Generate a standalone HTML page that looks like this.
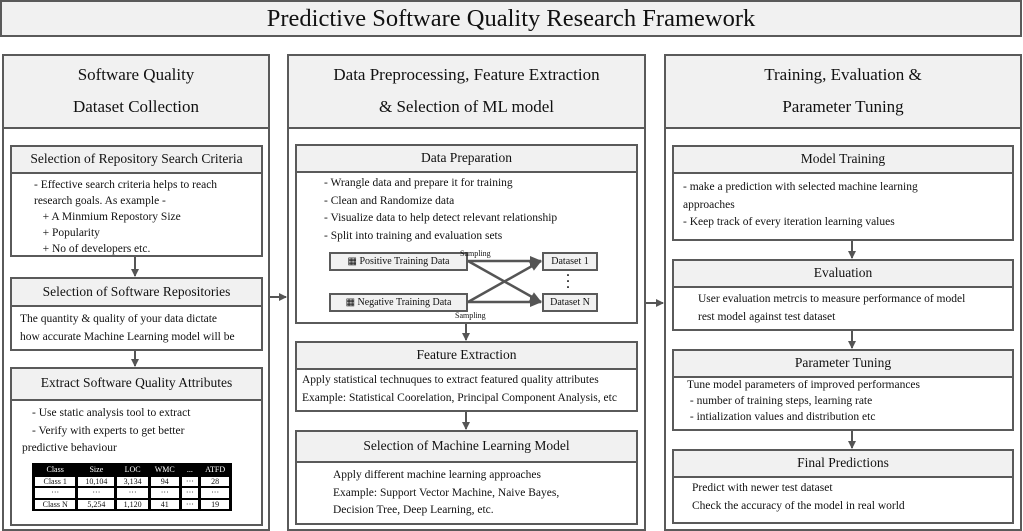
<!DOCTYPE html>
<html><head><meta charset="utf-8"><style>
*{box-sizing:border-box;margin:0;padding:0}
body{width:1023px;height:531px;position:relative;background:#fff;font-family:"Liberation Serif",serif;color:#111;overflow:hidden}
.b{position:absolute;border:2px solid #5a5a5a;background:#fff}
.h{background:#f1f1f1;border-bottom:2px solid #5a5a5a;text-align:center}
.t{position:absolute;font-size:11.5px;line-height:17.5px}
.ab{position:absolute}
table{border-collapse:separate;border-spacing:3px 2px;background:#000;font-size:8px;width:200px;height:48px}
td{background:#fff;text-align:center;padding:0 2px;line-height:9px}
th{color:#fff;font-weight:normal;line-height:9px}
.sm{position:absolute;font-size:8px}
.db{position:absolute;border:2px solid #5a5a5a;background:#f1f1f1;font-size:10px;line-height:15px;text-align:center}
</style></head><body>

<div class="b h" style="left:0;top:0;width:1022px;height:37px;font-size:24.5px;line-height:33px;border-bottom:2px solid #5a5a5a">Predictive Software Quality Research Framework</div>

<div class="b" style="left:2px;top:54px;width:268px;height:477px"><div class="h" style="height:73px;font-size:17px;line-height:32px;padding-top:3px">Software Quality<br>Dataset Collection</div></div>
<div class="b" style="left:287px;top:54px;width:359px;height:477px"><div class="h" style="height:73px;font-size:17px;line-height:32px;padding-top:3px">Data Preprocessing, Feature Extraction<br>&amp; Selection of ML model</div></div>
<div class="b" style="left:664px;top:54px;width:358px;height:477px"><div class="h" style="height:73px;font-size:17px;line-height:32px;padding-top:3px">Training, Evaluation &amp;<br>Parameter Tuning</div></div>

<div class="b" style="left:10px;top:145px;width:253px;height:112px"><div class="h" style="height:27px;font-size:13.5px;line-height:24px">Selection of Repository Search Criteria</div>
<div class="t" style="left:22px;top:30px;width:230px;line-height:16px">- Effective search criteria helps to reach<br>research goals. As example -<br>&nbsp;&nbsp;&nbsp;+ A Minmium Repostory Size<br>&nbsp;&nbsp;&nbsp;+ Popularity<br>&nbsp;&nbsp;&nbsp;+ No of developers etc.</div></div>

<div class="b" style="left:10px;top:277px;width:253px;height:74px"><div class="h" style="height:28px;font-size:13.5px;line-height:25px">Selection of Software Repositories</div>
<div class="t" style="left:8px;top:32px;width:240px">The quantity &amp; quality of your data dictate<br>how accurate Machine Learning model will be</div></div>

<div class="b" style="left:10px;top:367px;width:253px;height:159px"><div class="h" style="height:32px;font-size:13.5px;line-height:28px">Extract Software Quality Attributes</div>
<div class="t" style="left:20px;top:36px;width:230px">- Use static analysis tool to extract<br>- Verify with experts to get better<br><span style="margin-left:-10px">predictive behaviour</span></div>
<div class="ab" style="left:20px;top:94px"><table>
<tr><th>Class</th><th>Size</th><th>LOC</th><th>WMC</th><th>...</th><th>ATFD</th></tr>
<tr><td>Class 1</td><td>10,104</td><td>3,134</td><td>94</td><td>···</td><td>28</td></tr>
<tr><td>···</td><td>···</td><td>···</td><td>···</td><td>···</td><td>···</td></tr>
<tr><td>Class N</td><td>5,254</td><td>1,120</td><td>41</td><td>···</td><td>19</td></tr>
</table></div></div>

<div class="b" style="left:295px;top:144px;width:343px;height:180px"><div class="h" style="height:27px;font-size:13.5px;line-height:24px">Data Preparation</div>
<div class="t" style="left:27px;top:29px;line-height:17.5px">- Wrangle data and prepare it for training<br>- Clean and Randomize data<br>- Visualize data to help detect relevant relationship<br>- Split into training and evaluation sets</div></div>
<div class="db" style="left:329px;top:252px;width:139px;height:19px">&#9638; Positive Training Data</div>
<div class="db" style="left:329px;top:293px;width:139px;height:19px">&#9638; Negative Training Data</div>
<div class="db" style="left:542px;top:252px;width:56px;height:19px">Dataset 1</div>
<div class="db" style="left:542px;top:293px;width:56px;height:19px">Dataset N</div>
<div class="sm" style="left:460px;top:249px">Sampling</div>
<div class="sm" style="left:455px;top:311px">Sampling</div>
<div class="ab" style="left:566px;top:272px;font-size:12px;line-height:6px;font-weight:bold">·<br>·<br>·</div>

<div class="b" style="left:295px;top:341px;width:343px;height:71px"><div class="h" style="height:27px;font-size:13.5px;line-height:24px">Feature Extraction</div>
<div class="t" style="left:5px;top:29px">Apply statistical technuques to extract featured quality attributes<br>Example: Statistical Coorelation, Principal Component Analysis, etc</div></div>

<div class="b" style="left:295px;top:430px;width:343px;height:95px"><div class="h" style="height:31px;font-size:13.5px;line-height:28px">Selection of Machine Learning Model</div>
<div class="t" style="left:36px;top:35px">Apply different machine learning approaches<br>Example: Support Vector Machine, Naive Bayes,<br>Decision Tree, Deep Learning, etc.</div></div>

<div class="b" style="left:672px;top:145px;width:342px;height:96px"><div class="h" style="height:27px;font-size:13.5px;line-height:24px">Model Training</div>
<div class="t" style="left:9px;top:32px">- make a prediction with selected machine learning<br>approaches<br>- Keep track of every iteration learning values</div></div>
<div class="b" style="left:672px;top:259px;width:342px;height:72px"><div class="h" style="height:27px;font-size:13.5px;line-height:24px">Evaluation</div>
<div class="t" style="left:24px;top:30px">User evaluation metrcis to measure performance of model<br>rest model against test dataset</div></div>
<div class="b" style="left:672px;top:349px;width:342px;height:82px"><div class="h" style="height:27px;font-size:13.5px;line-height:24px">Parameter Tuning</div>
<div class="t" style="left:13px;top:26px;line-height:16px">Tune model parameters of improved performances<br>&nbsp;- number of training steps, learning rate<br>&nbsp;- intialization values and distribution etc</div></div>
<div class="b" style="left:672px;top:449px;width:342px;height:75px"><div class="h" style="height:27px;font-size:13.5px;line-height:24px">Final Predictions</div>
<div class="t" style="left:18px;top:29px">Predict with newer test dataset<br>Check the accuracy of the model in real world</div></div>

<svg class="ab" style="left:0;top:0" width="1023" height="531">
<defs><marker id="a" markerWidth="8" markerHeight="8" refX="7" refY="4" orient="auto" markerUnits="userSpaceOnUse"><path d="M0,0 L8,4 L0,8 z" fill="#555"/></marker>
<marker id="c" markerWidth="12" markerHeight="10" refX="11" refY="5" orient="auto" markerUnits="userSpaceOnUse"><path d="M0,0 L12,5 L0,10 z" fill="#555"/></marker></defs>
<g stroke="#555" stroke-width="2" fill="none">
<line x1="135" y1="257" x2="135" y2="276" marker-end="url(#a)"/>
<line x1="135" y1="351" x2="135" y2="366" marker-end="url(#a)"/>
<line x1="466" y1="324" x2="466" y2="340" marker-end="url(#a)"/>
<line x1="466" y1="412" x2="466" y2="429" marker-end="url(#a)"/>
<line x1="852" y1="241" x2="852" y2="258" marker-end="url(#a)"/>
<line x1="852" y1="331" x2="852" y2="348" marker-end="url(#a)"/>
<line x1="852" y1="431" x2="852" y2="448" marker-end="url(#a)"/>
<line x1="270" y1="297" x2="286" y2="297" marker-end="url(#a)"/>
<line x1="646" y1="303" x2="663" y2="303" marker-end="url(#a)"/>
<g stroke-width="2.5">
<line x1="468" y1="261" x2="541" y2="261" marker-end="url(#c)"/>
<line x1="468" y1="261" x2="541" y2="302" marker-end="url(#c)"/>
<line x1="468" y1="302" x2="541" y2="261" marker-end="url(#c)"/>
<line x1="468" y1="302" x2="541" y2="302" marker-end="url(#c)"/>
</g></g></svg>
</body></html>
